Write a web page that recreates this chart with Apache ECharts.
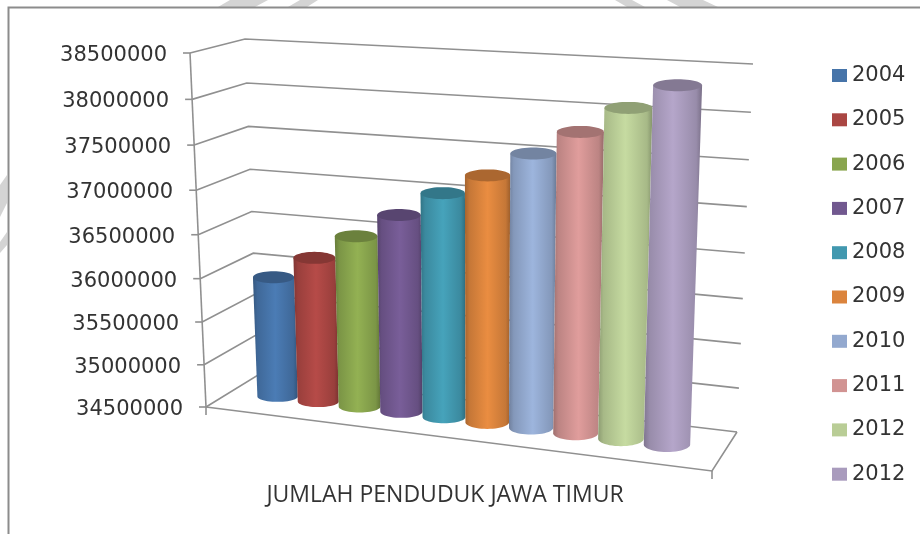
<!DOCTYPE html>
<html>
<head>
<meta charset="utf-8">
<style>html,body{margin:0;padding:0;background:#fff}#c{width:920px;height:534px}</style>
<script src="https://cdn.jsdelivr.net/npm/echarts@6/dist/echarts.min.js"></script>
</head>
<body>
<div id="c"></div>
<script>
const years = ['2004','2005','2006','2007','2008','2009','2010','2011','2012','2012 '];
const population = [35920000,36190000,36480000,36760000,37040000,37270000,37540000,37800000,38080000,38340000];
const tickValues = [34500000,35000000,35500000,36000000,36500000,37000000,37500000,38000000,38500000];
const palette = ['#4674A9','#AA4643','#89A54E','#71588F','#4198AF','#DB843D','#93A9CF','#D19392','#B9CD96','#A99BBD'];
const axisTitle = 'JUMLAH PENDUDUK JAWA TIMUR';

const FONT = '"DejaVu Sans", sans-serif';
const LINE = '#909090';
const G = {left:178, top:53, width:534, height:354};
const C = {
  f0L:[206,407], f1L:[190,53], b0L:[258,375], b1L:[245,39],
  b0R:[737,432], b1R:[753,64], f0R:[712,471], f1R:[725,81]
};
const mix = (a,b,t)=>[a[0]+(b[0]-a[0])*t, a[1]+(b[1]-a[1])*t];
const persp = v => v/(v+(1-v)*1.055);
const vOf = py => persp((G.top+G.height-py)/G.height);
// s across the chart, t up the walls, d from front (0) to back (1)
function box(s,t,d){
  const front = mix(mix(C.f0L,C.f1L,t), mix(C.f0R,C.f1R,t), s);
  const back  = mix(mix(C.b0L,C.b1L,t), mix(C.b0R,C.b1R,t), s);
  return mix(front,back,d);
}
function sOf(u){
  const w=(u-0.05)/0.9;
  return 0.0924+0.7906*(w/(w+(1-w)*1.072));
}
function shade(hex,f){
  const n=parseInt(hex.slice(1),16);
  const c=[n>>16,(n>>8)&255,n&255].map(x=>Math.max(0,Math.min(255,Math.round(x*f))));
  return 'rgb('+c.join(',')+')';
}
function renderWall(params,api){
  const t=vOf(api.coord([0,api.value(1)])[1]);
  const a=box(0,t,0), b=box(0,t,1), c=box(1,t,1);
  const lineStyle={stroke:LINE,lineWidth:1.6,fill:null};
  const kids=[
    {type:'polyline',shape:{points:[a,b,c]},style:lineStyle},
    {type:'line',shape:{x1:a[0]-7,y1:a[1],x2:a[0],y2:a[1]},style:lineStyle},
    {type:'text',style:{text:String(api.value(1)),x:a[0]-23,y:a[1]+2.5,align:'right',verticalAlign:'middle',
      fontSize:21,fontFamily:FONT,fill:'#333'}}
  ];
  if(params.dataIndex===0){
    const f0=box(0,0,0), f1=box(0,1,0), r0=box(1,0,0), r1=box(1,0,1);
    kids.push(
      {type:'line',shape:{x1:f0[0],y1:f0[1],x2:f1[0],y2:f1[1]},style:lineStyle},
      {type:'polyline',shape:{points:[f0,r0,r1]},style:lineStyle},
      {type:'line',shape:{x1:f0[0],y1:f0[1],x2:f0[0],y2:f0[1]+8},style:lineStyle},
      {type:'line',shape:{x1:r0[0],y1:r0[1],x2:r0[0],y2:r0[1]+8},style:lineStyle}
    );
  }
  return {type:'group',children:kids};
}
function renderBar(params,api){
  const p=api.coord([api.value(0),api.value(1)]);
  const band=api.size([1,0])[0];
  const color=api.visual('color');
  const u=(p[0]-G.left)/G.width;
  const du=band/2/G.width;
  const s=sOf(u), sL=sOf(u-du), sR=sOf(u+du);
  const t=vOf(p[1]);
  const bc=box(s,0,0.5), tc=box(s,t,0.5);
  const bl=box(sL,0,0.5)[0], br=box(sR,0,0.5)[0];
  const tl=box(sL,t,0.5)[0], tr=box(sR,t,0.5)[0];
  const ryB=5+3*s, ryT=6;
  const pts=[[tl,tc[1]],[tr,tc[1]]];
  const N=24;
  for(let i=0;i<=N;i++){
    const a=Math.PI*i/N;
    pts.push([(bl+br)/2+(br-bl)/2*Math.cos(a), bc[1]+ryB*Math.sin(a)]);
  }
  const top=[];
  for(let i=0;i<48;i++){
    const a=2*Math.PI*i/48;
    top.push([(tl+tr)/2+(tr-tl)/2*Math.cos(a), tc[1]+ryT*Math.sin(a)]);
  }
  return {type:'group',children:[
    {type:'polygon',shape:{points:pts},style:{fill:{type:'linear',x:0,y:0,x2:1,y2:0,colorStops:[
      {offset:0,color:shade(color,0.76)},{offset:0.1,color:shade(color,0.9)},
      {offset:0.5,color:shade(color,1.07)},{offset:0.9,color:shade(color,0.9)},
      {offset:1,color:shade(color,0.72)}]}}},
    {type:'polygon',shape:{points:top},style:{fill:shade(color,0.78)}}
  ]};
}
const band=(pts,fill)=>({type:'polygon',silent:true,z:-2,shape:{points:pts},style:{fill}});
const chart=echarts.init(document.getElementById('c'),null,{renderer:'canvas'});
chart.setOption({
  animation:false,
  backgroundColor:'#fff',
  tooltip:{show:false},
  grid:{left:G.left,top:G.top,width:G.width,height:G.height,containLabel:false},
  legend:{
    data:years, orient:'vertical', left:832, top:65, padding:0, icon:'rect',
    itemWidth:15, itemHeight:13, itemGap:23.3, itemTextGap:7, selectedMode:false,
    textStyle:{fontSize:21,fontFamily:FONT,color:'#333',lineHeight:20}
  },
  xAxis:{type:'category',data:years,axisLine:{show:false},axisTick:{show:false},axisLabel:{show:false},splitLine:{show:false},
    name:axisTitle,nameLocation:'middle',nameGap:77,
    nameTextStyle:{fontSize:23,fontFamily:'"Open Sans", sans-serif',color:'#333'}},
  yAxis:{type:'value',min:34500000,max:38500000,interval:500000,show:false},
  graphic:{elements:[
    band([[230,0],[268,0],[255,7],[218,7]],'#d4d4d4'),
    band([[300,0],[318,0],[307,7],[288,7]],'#d4d4d4'),
    band([[615,0],[632,0],[645,7],[627,7]],'#d4d4d4'),
    band([[667,0],[703,0],[718,7],[680,7]],'#d4d4d4'),
    band([[0,185],[7,175],[7,203],[0,217]],'#d4d4d4'),
    band([[0,242],[7,232],[7,245],[0,253]],'#d4d4d4'),
    {type:'polyline',silent:true,z:-1,shape:{points:[[8.5,534],[8.5,7.5],[920,7.5]]},style:{stroke:'#8c8c8c',lineWidth:2,fill:null}}
  ]},
  series:[
    {type:'custom',name:'wall',silent:true,z:1,renderItem:renderWall,data:tickValues.map(v=>[0,v]),encode:{x:0,y:1}},
    ...years.map((y,i)=>({type:'custom',name:y,silent:true,z:2,renderItem:renderBar,itemStyle:{color:palette[i]},
      data:[[i,population[i]]],encode:{x:0,y:1}}))
  ]
});
</script>
</body>
</html>
